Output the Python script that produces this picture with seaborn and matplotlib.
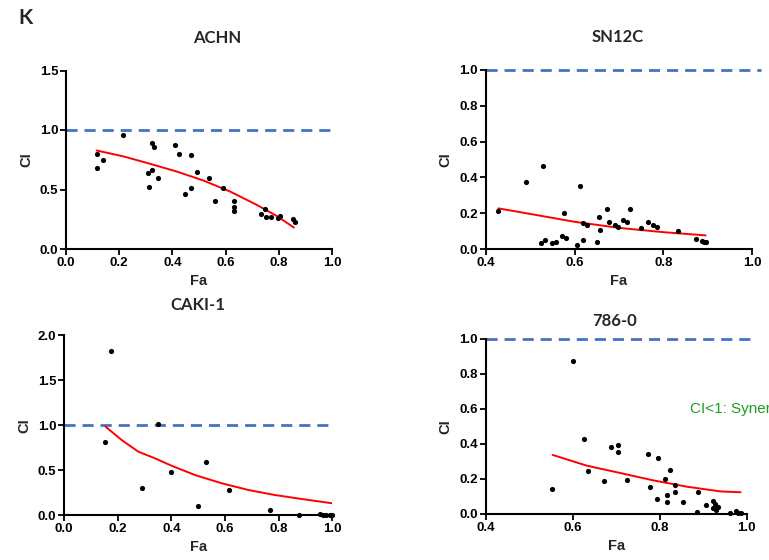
import numpy as np
import pandas as pd
import matplotlib
matplotlib.use("Agg")
import matplotlib.pyplot as plt
import seaborn as sns

# ---------------- data ----------------
achn_fa = [0.115, 0.115, 0.14, 0.213, 0.323, 0.332, 0.307, 0.323, 0.313, 0.347,
           0.41, 0.426, 0.47, 0.449, 0.47, 0.492, 0.536, 0.589, 0.559, 0.632,
           0.63, 0.63, 0.732, 0.747, 0.751, 0.772, 0.805, 0.798, 0.852, 0.86]
achn_ci = [0.80, 0.68, 0.75, 0.96, 0.89, 0.86, 0.64, 0.665, 0.52, 0.60,
           0.87, 0.80, 0.79, 0.46, 0.51, 0.65, 0.60, 0.51, 0.40, 0.40,
           0.35, 0.32, 0.295, 0.334, 0.27, 0.27, 0.28, 0.26, 0.255, 0.23]
achn_curve_fa = [0.115, 0.216, 0.316, 0.416, 0.516, 0.617, 0.717, 0.792, 0.857]
achn_curve_ci = [0.828, 0.778, 0.716, 0.651, 0.576, 0.483, 0.371, 0.278, 0.18]

sn12c_fa = [0.4285, 0.491, 0.530, 0.525, 0.534, 0.549, 0.558, 0.571, 0.576, 0.581,
            0.606, 0.612, 0.618, 0.620, 0.627, 0.650, 0.656, 0.658, 0.672, 0.677,
            0.690, 0.698, 0.708, 0.718, 0.724, 0.750, 0.766, 0.777, 0.785, 0.832,
            0.873, 0.886, 0.891, 0.895]
sn12c_ci = [0.214, 0.374, 0.464, 0.034, 0.048, 0.034, 0.037, 0.074, 0.199, 0.063,
            0.020, 0.354, 0.048, 0.143, 0.132, 0.037, 0.179, 0.104, 0.223, 0.153,
            0.134, 0.123, 0.164, 0.149, 0.223, 0.115, 0.149, 0.134, 0.125, 0.099,
            0.054, 0.045, 0.039, 0.039]
sn12c_curve_fa = [0.4285, 0.5, 0.6, 0.7, 0.8, 0.895]
sn12c_curve_ci = [0.227, 0.196, 0.152, 0.118, 0.094, 0.076]

caki_fa = [0.175, 0.154, 0.291, 0.349, 0.398, 0.501, 0.529, 0.616, 0.769, 0.876,
           0.953, 0.966, 0.975, 0.991, 1.0]
caki_ci = [1.82, 0.817, 0.303, 1.017, 0.484, 0.104, 0.595, 0.281, 0.063, 0.004,
           0.018, 0.006, 0.002, 0.002, 0.001]
caki_curve_fa = [0.155, 0.215, 0.277, 0.339, 0.401, 0.488, 0.588, 0.687, 0.786, 0.886, 1.0]
caki_curve_ci = [0.983, 0.835, 0.706, 0.632, 0.55, 0.447, 0.355, 0.281, 0.225, 0.181, 0.133]

r786_fa = [0.552, 0.600, 0.626, 0.636, 0.672, 0.687, 0.703, 0.705, 0.724, 0.774,
           0.778, 0.793, 0.795, 0.812, 0.816, 0.816, 0.824, 0.835, 0.836, 0.854,
           0.888, 0.886, 0.906, 0.922, 0.923, 0.928, 0.933, 0.930, 0.962, 0.975,
           0.981, 0.986]
r786_ci = [0.141, 0.871, 0.430, 0.247, 0.188, 0.382, 0.352, 0.392, 0.192, 0.342,
           0.152, 0.087, 0.319, 0.198, 0.108, 0.067, 0.249, 0.163, 0.125, 0.067,
           0.127, 0.013, 0.051, 0.074, 0.032, 0.055, 0.042, 0.023, 0.004, 0.015,
           0.008, 0.004]
r786_curve_fa = [0.554, 0.632, 0.709, 0.785, 0.862, 0.939, 0.986]
r786_curve_ci = [0.337, 0.276, 0.234, 0.192, 0.156, 0.129, 0.124]

titles = ["ACHN", "SN12C", "CAKI-1", "786-0"]

# ---------------- style ----------------
sns.set_style("ticks")
plt.rcParams["font.family"] = ["Liberation Sans", "DejaVu Sans"]

W, H = 769, 560
fig = plt.figure(figsize=(W / 100, H / 100), dpi=100)

def px_axes(left, top, right, bottom):
    return fig.add_axes([left / W, 1 - bottom / H, (right - left) / W, (bottom - top) / H])

panels = [
    dict(box=(66, 70.5, 332, 249), fa=achn_fa, ci=achn_ci, cfa=achn_curve_fa, cci=achn_curve_ci,
         xlim=(0, 1), xt=np.arange(0, 1.01, 0.2), ylim=(0, 1.5), yt=np.arange(0, 1.51, 0.5),
         title_pad=20, title_x=0.5 + 18 / 266, dash_end=1.0),
    dict(box=(485.7, 70, 752.3, 249), fa=sn12c_fa, ci=sn12c_ci, cfa=sn12c_curve_fa, cci=sn12c_curve_ci,
         xlim=(0.4, 1), xt=np.arange(0.4, 1.01, 0.2), ylim=(0, 1.0), yt=np.arange(0, 1.01, 0.2),
         title_pad=20, title_x=0.495, dash_end=1.02),
    dict(box=(64, 335, 332.3, 515.3), fa=caki_fa, ci=caki_ci, cfa=caki_curve_fa, cci=caki_curve_ci,
         xlim=(0, 1), xt=np.arange(0, 1.01, 0.2), ylim=(0, 2.0), yt=np.arange(0, 2.01, 0.5),
         title_pad=18, title_x=0.5, dash_end=1.0),
    dict(box=(485.7, 338.7, 746.7, 514), fa=r786_fa, ci=r786_ci, cfa=r786_curve_fa, cci=r786_curve_ci,
         xlim=(0.4, 1), xt=np.arange(0.4, 1.01, 0.2), ylim=(0, 1.0), yt=np.arange(0, 1.01, 0.2),
         title_pad=9, title_x=0.495, dash_end=1.01),
]

for p, title in zip(panels, titles):
    ax = px_axes(*p["box"])
    pts = pd.DataFrame({"Fa": p["fa"], "CI": p["ci"]})
    crv = pd.DataFrame({"Fa": p["cfa"], "CI": p["cci"]})
    ax.plot([p["xlim"][0], p["dash_end"]], [1.0, 1.0], color="#4472C4", lw=2.0,
            dashes=(4, 2.5), clip_on=False, zorder=2)
    sns.lineplot(data=crv, x="Fa", y="CI", ax=ax, color="#FF0000", lw=1.4, zorder=3,
                 sort=True, estimator=None)
    sns.scatterplot(data=pts, x="Fa", y="CI", ax=ax, color="black", s=14, linewidth=0,
                    zorder=4, clip_on=False)
    ax.set_xlim(*p["xlim"])
    ax.set_ylim(*p["ylim"])
    ax.set_xticks(p["xt"])
    ax.set_yticks(p["yt"])
    ax.set_xticklabels([f"{v:.1f}" for v in p["xt"]], fontsize=9.5, fontweight="bold")
    ax.set_yticklabels([f"{v:.1f}" for v in p["yt"]], fontsize=9.5, fontweight="bold")
    ax.set_xlabel("Fa", fontsize=10.5, fontweight="bold", labelpad=4)
    ax.set_ylabel("CI", fontsize=10.5, fontweight="bold", labelpad=5)
    ax.set_title(title, fontsize=12, fontweight="bold", pad=p["title_pad"], x=p["title_x"],
                 family=["Lato", "DejaVu Sans"])
    for s in ["top", "right"]:
        ax.spines[s].set_visible(False)
    for s in ["left", "bottom"]:
        ax.spines[s].set_linewidth(1.5)
        ax.spines[s].set_color("black")
    ax.tick_params(axis="both", direction="out", length=4, width=1.3,
                   pad=1.5, colors="black")
    ax.grid(False)

fig.text(18 / W, 1 - 18 / H, "K", fontsize=15, fontweight="bold", ha="left", va="center",
         family=["Lato", "DejaVu Sans"])
fig.text(690 / W, 1 - 409 / H, "CI<1: Synergy", fontsize=11, color="#1E9E1E",
         ha="left", va="center")

fig.savefig("out.png", dpi=100, facecolor="white")
